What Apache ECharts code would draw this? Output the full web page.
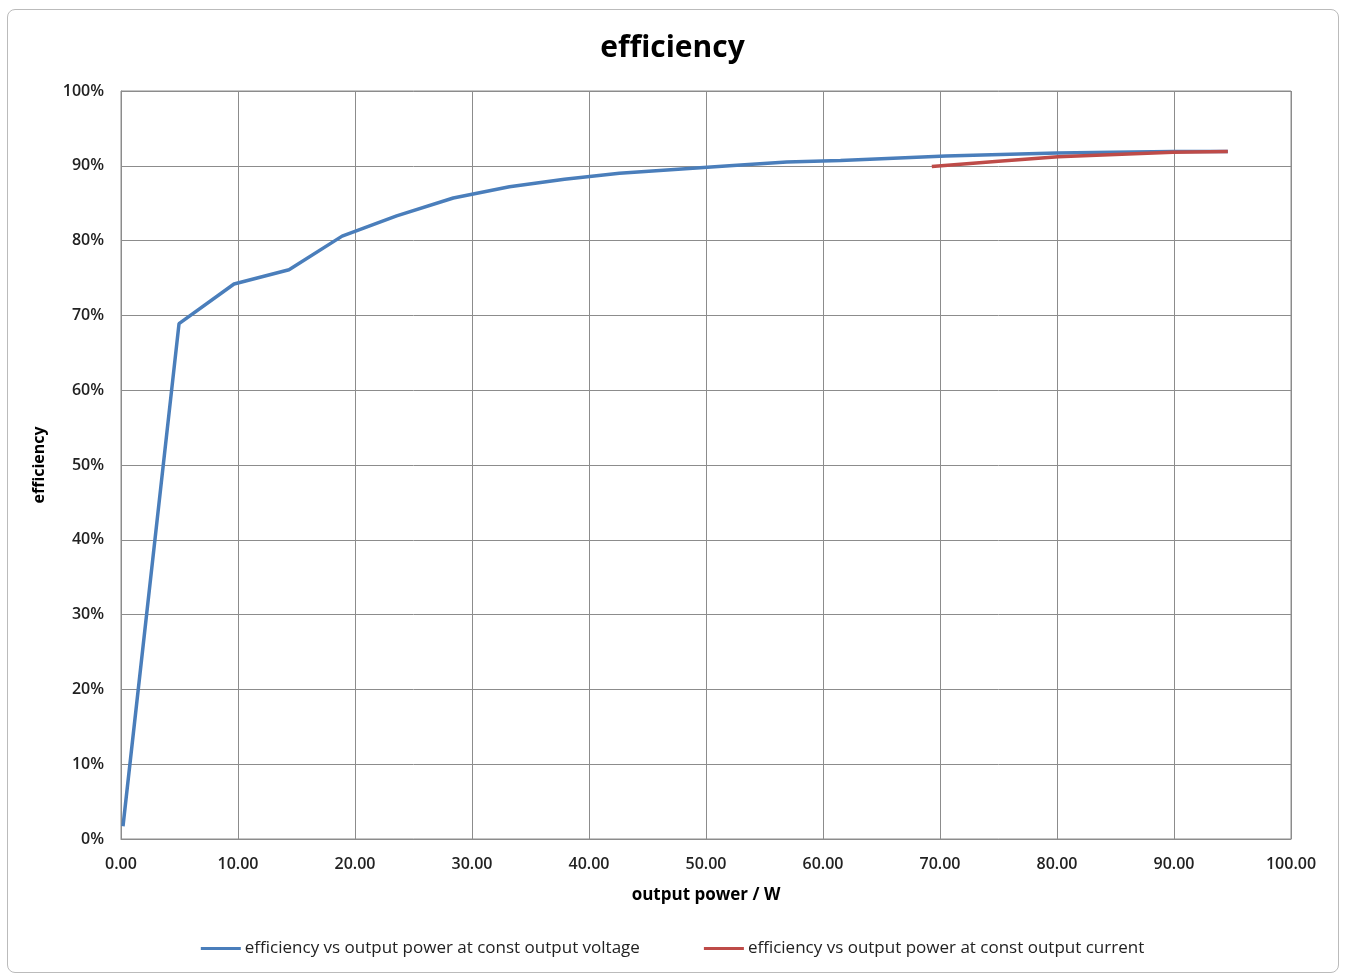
<!DOCTYPE html>
<html>
<head>
<meta charset="utf-8">
<script src="https://cdn.jsdelivr.net/npm/echarts@6/dist/echarts.min.js"></script>
<style>
html,body{margin:0;padding:0;background:#fff;}
#frame{position:absolute;left:7px;top:9px;width:1332px;height:964px;border:1px solid #bbb;border-radius:8px;box-sizing:border-box;}
#chart{position:absolute;left:0;top:0;width:1345px;height:976px;}
</style>
</head>
<body>
<div id="frame"></div>
<div id="chart"></div>
<script>
// output power (W) / efficiency (%)
var voltPower = [0.17, 4.96, 9.66, 14.36, 18.9, 23.56, 28.4, 33.2, 37.9, 42.6, 47.3, 52.0, 56.9, 61.5, 66.0, 70.5, 75.2, 80.0, 84.8, 89.9, 94.6];
var voltEff   = [1.7, 68.9, 74.2, 76.1, 80.6, 83.3, 85.7, 87.2, 88.2, 89.0, 89.5, 90.0, 90.5, 90.7, 91.0, 91.3, 91.5, 91.7, 91.8, 91.9, 91.9];
var currPower = [69.3, 75.0, 80.1, 85.0, 89.9, 94.6];
var currEff   = [89.9, 90.6, 91.2, 91.5, 91.8, 91.9];

var seriesNames = ['efficiency vs output power at const output voltage', 'efficiency vs output power at const output current'];

function pairs(xs, ys) {
	return xs.map(function (x, i) { return [x, ys[i]]; });
}

var font = 'Open Sans';
var chart = echarts.init(document.getElementById('chart'));
var option = {
	backgroundColor: 'transparent',
	animation: false,
	title: {
		text: 'efficiency',
		left: 'center',
		top: 28,
		textStyle: { fontFamily: font, fontSize: 30, fontWeight: 'bold', color: '#000' }
	},
	grid: {
		left: 121,
		top: 91,
		width: 1170,
		height: 748,
		show: true,
		borderColor: '#8c8c8c',
		borderWidth: 1
	},
	legend: {
		bottom: 14,
		left: 'center',
		icon: 'rect',
		itemWidth: 40,
		itemHeight: 3,
		itemGap: 64,
		textStyle: { fontFamily: font, fontSize: 17, color: '#222', padding: [0, 0, 0, -1] },
		data: seriesNames
	},
	xAxis: {
		type: 'value',
		min: 0,
		max: 100,
		interval: 10,
		name: 'output power / W',
		nameLocation: 'middle',
		nameGap: 48,
		nameTextStyle: { fontFamily: font, fontSize: 17, fontWeight: 'bold', color: '#000' },
		axisLine: { show: true, lineStyle: { color: '#8c8c8c' } },
		axisTick: { show: false },
		axisLabel: {
			fontFamily: font, fontSize: 16, fontWeight: 600, color: '#222', margin: 17,
			formatter: function (v) { return v.toFixed(2); }
		},
		splitLine: { show: true, lineStyle: { color: '#8c8c8c', width: 1 } }
	},
	yAxis: {
		type: 'value',
		min: 0,
		max: 100,
		interval: 10,
		name: 'efficiency',
		nameLocation: 'middle',
		nameGap: 74,
		nameTextStyle: { fontFamily: font, fontSize: 16, fontWeight: 'bold', color: '#000' },
		axisLine: { show: true, lineStyle: { color: '#8c8c8c' } },
		axisTick: { show: false },
		axisLabel: {
			fontFamily: font, fontSize: 16, fontWeight: 600, color: '#222', margin: 17,
			formatter: function (v) { return v + '%'; }
		},
		splitLine: { show: true, lineStyle: { color: '#8c8c8c', width: 1 } }
	},
	series: [{
		name: seriesNames[0],
		type: 'line',
		symbol: 'none',
		lineStyle: { color: '#4a7ebb', width: 3.5 },
		itemStyle: { color: '#4a7ebb' },
		data: pairs(voltPower, voltEff)
	}, {
		name: seriesNames[1],
		type: 'line',
		symbol: 'none',
		lineStyle: { color: '#be4b48', width: 3.5 },
		itemStyle: { color: '#be4b48' },
		data: pairs(currPower, currEff)
	}]
};
chart.setOption(option);
</script>
</body>
</html>
